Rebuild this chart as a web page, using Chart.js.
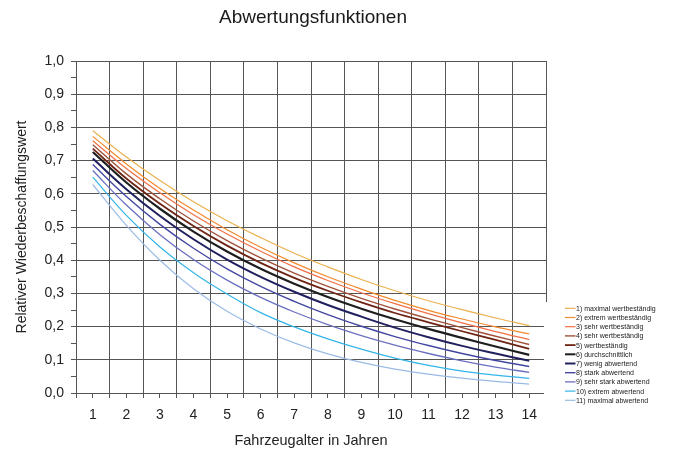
<!DOCTYPE html>
<html><head><meta charset="utf-8">
<script src="https://cdn.jsdelivr.net/npm/chart.js@4/dist/chart.umd.min.js"></script>
<style>html,body{margin:0;padding:0;background:#fff}#wrap{width:674px;height:452px}</style>
</head><body><div id="wrap"><canvas id="c" width="674" height="452"></canvas></div>
<script>
const titleText = 'Abwertungsfunktionen';
const xTitle = 'Fahrzeugalter in Jahren';
const yTitle = 'Relativer Wiederbeschaffungswert';

const years = [1, 2, 3, 4, 5, 6, 7, 8, 9, 10, 11, 12, 13, 14];

const seriesNames = [
  '1) maximal wertbeständig', '2) extrem wertbeständig', '3) sehr wertbeständig',
  '4) sehr wertbeständig', '5) wertbeständig', '6) durchschnittlich',
  '7) wenig abwertend', '8) stark abwertend', '9) sehr stark abwertend',
  '10) extrem abwertend', '11) maximal abwertend'
];

const s1  = [0.790, 0.711, 0.640, 0.576, 0.519, 0.468, 0.421, 0.380, 0.342, 0.308, 0.278, 0.251, 0.226, 0.203];
const s2  = [0.773, 0.690, 0.616, 0.551, 0.492, 0.439, 0.392, 0.350, 0.313, 0.279, 0.249, 0.223, 0.199, 0.178];
const s3  = [0.760, 0.676, 0.603, 0.537, 0.479, 0.427, 0.380, 0.339, 0.302, 0.269, 0.239, 0.211, 0.185, 0.161];
const s4  = [0.748, 0.660, 0.585, 0.518, 0.459, 0.407, 0.361, 0.321, 0.285, 0.253, 0.224, 0.197, 0.171, 0.146];
const s5  = [0.736, 0.646, 0.570, 0.503, 0.444, 0.392, 0.347, 0.308, 0.273, 0.241, 0.213, 0.186, 0.160, 0.133];
const s6  = [0.726, 0.634, 0.555, 0.486, 0.426, 0.374, 0.329, 0.289, 0.254, 0.222, 0.193, 0.166, 0.140, 0.115];
const s7  = [0.706, 0.614, 0.533, 0.463, 0.402, 0.350, 0.305, 0.265, 0.230, 0.197, 0.168, 0.142, 0.119, 0.097];
const s8  = [0.688, 0.592, 0.508, 0.436, 0.374, 0.321, 0.276, 0.236, 0.201, 0.170, 0.143, 0.119, 0.098, 0.080];
const s9  = [0.670, 0.566, 0.477, 0.402, 0.340, 0.288, 0.244, 0.206, 0.173, 0.144, 0.119, 0.097, 0.078, 0.062];
const s10 = [0.650, 0.535, 0.440, 0.362, 0.298, 0.242, 0.199, 0.163, 0.132, 0.105, 0.083, 0.066, 0.054, 0.044];
const s11 = [0.628, 0.505, 0.400, 0.314, 0.246, 0.193, 0.151, 0.118, 0.092, 0.072, 0.057, 0.045, 0.035, 0.027];
const seriesValues = [s1, s2, s3, s4, s5, s6, s7, s8, s9, s10, s11];

const seriesColors = ['#EBB04F', '#F28A2E', '#F26F45', '#A0533A', '#6E2514', '#1E1E1E',
                      '#20205E', '#4347A0', '#6A70C0', '#33B5E8', '#9BBBE6'];
const seriesWidths = [1.2, 1.2, 1.2, 1.4, 1.8, 2.2, 2.0, 1.4, 1.3, 1.2, 1.2];

const yTickLabel = v => v.toFixed(1).replace('.', ',');

const FONT = '"Liberation Sans", Arial, sans-serif';
const GRID = '#555555';

const datasets = seriesValues.map((vals, i) => ({
  label: seriesNames[i],
  data: years.map((x, j) => ({ x, y: vals[j] })),
  borderColor: seriesColors[i],
  backgroundColor: seriesColors[i],
  borderWidth: seriesWidths[i],
  pointRadius: 0,
  tension: 0.4,
  fill: false
}));

const decor = {
  id: 'decor',
  afterDraw(chart) {
    const ctx = chart.ctx, ca = chart.chartArea;
    ctx.save();
    ctx.fillStyle = '#1a1a1a';
    ctx.font = '19px ' + FONT;
    ctx.textAlign = 'center';
    ctx.textBaseline = 'middle';
    ctx.fillText(titleText, (ca.left + ca.right) / 2 + 2, 18);
    ctx.fillStyle = '#fff';
    ctx.fillRect(544, 302, 130, 104);
    ctx.font = '7px ' + FONT;
    ctx.textAlign = 'left';
    chart.data.datasets.forEach((ds, i) => {
      const y = 308.3 + i * 9.2;
      ctx.strokeStyle = ds.borderColor;
      ctx.lineWidth = Math.min(ds.borderWidth, 2);
      ctx.beginPath();
      ctx.moveTo(565, y);
      ctx.lineTo(575.5, y);
      ctx.stroke();
      ctx.fillStyle = '#222';
      ctx.fillText(ds.label, 576, y + 0.5);
    });
    ctx.restore();
  }
};

new Chart(document.getElementById('c'), {
  type: 'line',
  data: { datasets },
  options: {
    responsive: false,
    animation: false,
    devicePixelRatio: 1,
    layout: { padding: { top: 61, right: 128, bottom: 0, left: 0 } },
    plugins: { legend: { display: false }, tooltip: { enabled: false }, title: { display: false } },
    scales: {
      x: {
        type: 'linear', min: 0.5, max: 14.5,
        afterFit: s => { s.height = 59; },
        ticks: {
          stepSize: 0.5, autoSkip: false, maxRotation: 0, padding: 9,
          color: '#222', font: { family: FONT, size: 14 },
          callback: v => Number.isInteger(v) ? String(v) : ''
        },
        grid: {
          color: c => (c.tick && Number.isInteger(c.tick.value)) ? 'rgba(0,0,0,0)' : GRID,
          tickColor: GRID, tickLength: 5, lineWidth: 1
        },
        border: { color: GRID, width: 1 },
        title: { display: true, text: xTitle, color: '#222', font: { family: FONT, size: 14.5 }, padding: { top: 4, bottom: 2 } }
      },
      y: {
        min: 0, max: 1,
        afterFit: s => { s.width = 76; },
        ticks: {
          stepSize: 0.05, autoSkip: false, padding: 7,
          color: '#222', font: { family: FONT, size: 14 },
          callback: v => (Math.round(v * 20) % 2 === 0) ? yTickLabel(Math.round(v * 10) / 10) : ''
        },
        grid: {
          color: c => (c.tick && Math.round(c.tick.value * 20) % 2 === 0) ? GRID : 'rgba(0,0,0,0)',
          tickColor: GRID, tickLength: 5, lineWidth: 1
        },
        border: { color: GRID, width: 1 },
        title: { display: true, text: yTitle, color: '#222', font: { family: FONT, size: 14 }, padding: { top: 14, bottom: 0 } }
      }
    }
  },
  plugins: [decor]
});
</script>
</body></html>
